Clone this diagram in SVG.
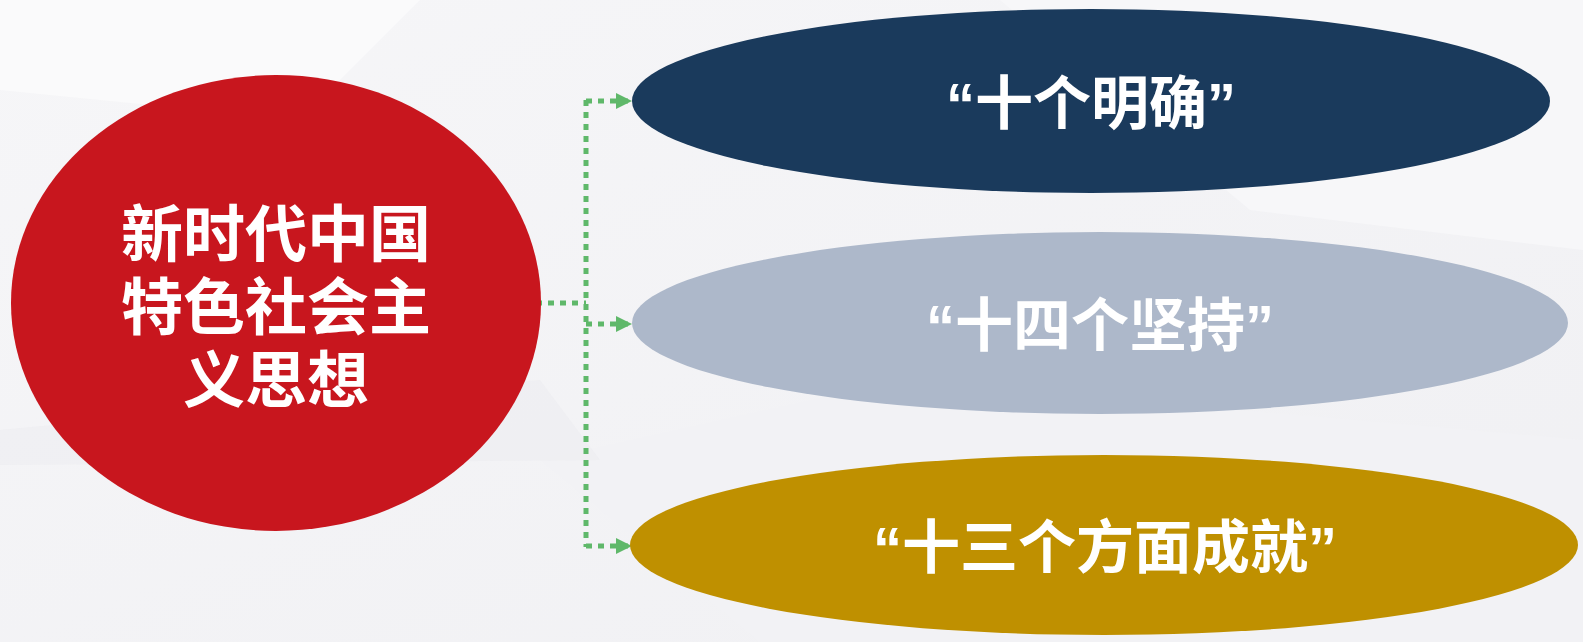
<svg xmlns="http://www.w3.org/2000/svg" width="1583" height="642" viewBox="0 0 1583 642">
<style>
.t{font-family:"Liberation Sans","Noto Sans CJK SC",sans-serif;font-weight:bold;fill:#ffffff;text-anchor:middle}
.c{fill:none;stroke:#5fb86a;stroke-width:5;stroke-dasharray:6 6}
</style>
<defs>
<marker id="ah" viewBox="0 0 10 10" refX="10" refY="5" markerWidth="16" markerHeight="16" markerUnits="userSpaceOnUse" orient="auto">
<path d="M0,0 L10,5 L0,10 Z" fill="#5fb86a"/>
</marker>
<linearGradient id="bg" x1="0" y1="0" x2="1" y2="1">
<stop offset="0" stop-color="#f6f6f8"/>
<stop offset="1" stop-color="#f0f0f3"/>
</linearGradient>
</defs>
<rect width="1583" height="642" fill="url(#bg)"/>
<polygon points="0,0 420,0 300,120 0,90" fill="#fafafb"/>
<polygon points="540,460 900,380 1583,440 1583,642 760,642" fill="#f2f2f5"/>
<polygon points="0,430 540,380 600,460 0,465" fill="#ececef" opacity="0.5"/>
<polygon points="1000,0 1583,0 1583,250 1250,210" fill="#f7f7f9"/>
<g id="connectors">
<path class="c" d="M536,303 H586"/>
<path class="c" d="M586,100 V547"/>
<path class="c" d="M586,101 H632" marker-end="url(#ah)"/>
<path class="c" d="M586,324 H632" marker-end="url(#ah)"/>
<path class="c" d="M586,546 H632" marker-end="url(#ah)"/>
</g>
<g id="node-center">
<ellipse cx="276" cy="303" rx="265" ry="228" fill="#c8161e"/>
<text class="t" font-size="62" x="276" y="257">新时代中国</text>
<text class="t" font-size="62" x="276" y="330">特色社会主</text>
<text class="t" font-size="62" x="276" y="403">义思想</text>
</g>
<g id="node-1">
<ellipse cx="1091" cy="101" rx="459" ry="92" fill="#1a3a5c"/>
<text class="t" font-size="58" x="1091" y="124">“十个明确”</text>
</g>
<g id="node-2">
<ellipse cx="1100" cy="323" rx="468" ry="91" fill="#adb8ca"/>
<text class="t" font-size="58" x="1100" y="346">“十四个坚持”</text>
</g>
<g id="node-3">
<ellipse cx="1104" cy="545" rx="474" ry="90" fill="#bf9000"/>
<text class="t" font-size="58" x="1105" y="568">“十三个方面成就”</text>
</g>
</svg>
